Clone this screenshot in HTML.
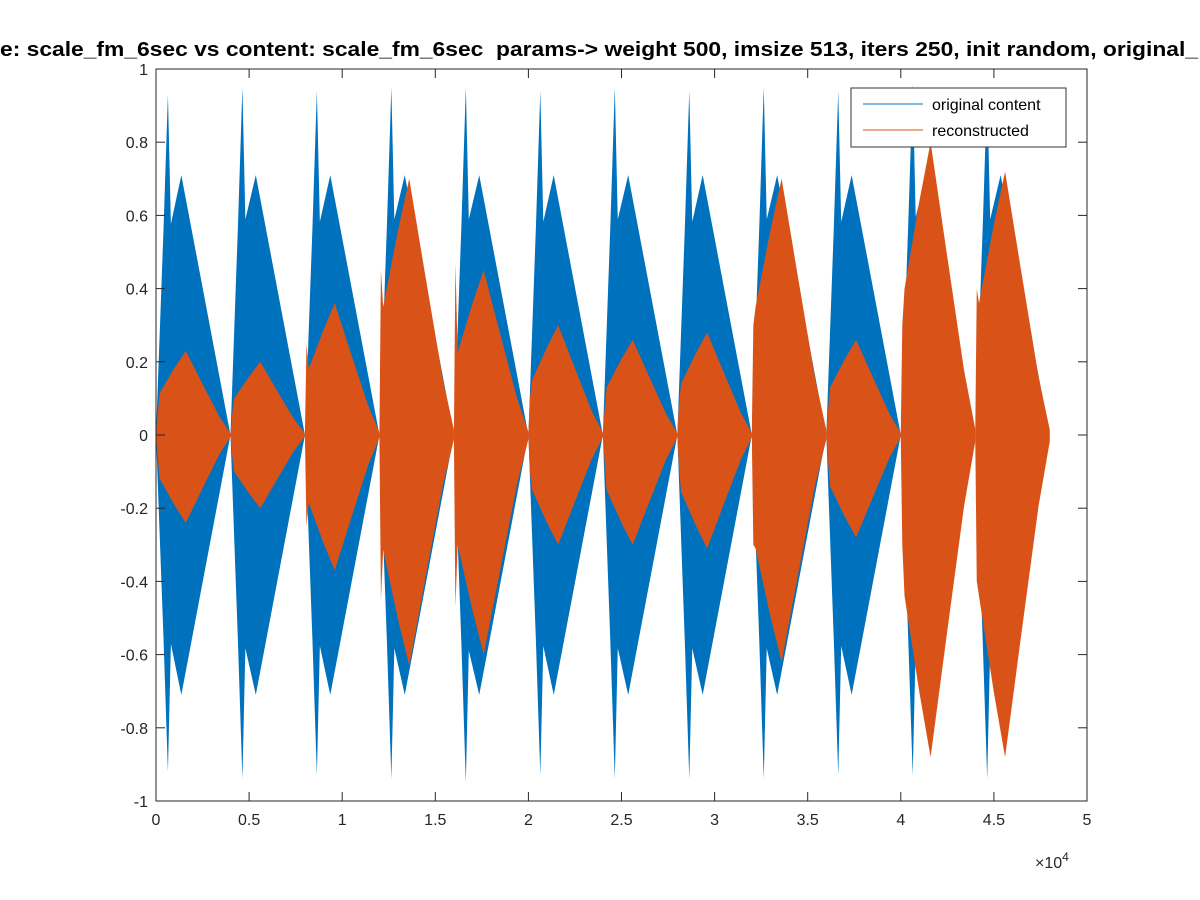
<!DOCTYPE html>
<html><head><meta charset="utf-8"><style>
html,body{margin:0;padding:0;background:#fff;}
svg{display:block;font-family:"Liberation Sans",Arial,sans-serif;}
</style></head><body>
<svg id="chart" width="1200" height="900" viewBox="0 0 1200 900">
<rect x="0" y="0" width="1200" height="900" fill="#fff"/>
<g id="plot"></g>
<g id="axes"></g>
<text x="0" y="56" font-size="20" font-weight="bold" fill="#000" textLength="1198" lengthAdjust="spacingAndGlyphs">e: scale_fm_6sec vs content: scale_fm_6sec&#160; params-&gt; weight 500, imsize 513, iters 250, init random, original_</text>
<g>
<rect x="851" y="88" width="215" height="59" fill="#fff" stroke="#333" stroke-width="1"/>
<line x1="863" y1="104" x2="923" y2="104" stroke="#0072BD" stroke-width="1"/>
<text x="932" y="110" font-size="16" fill="#000">original content</text>
<line x1="863" y1="130" x2="923" y2="130" stroke="#D95319" stroke-width="1"/>
<text x="932" y="136" font-size="16" fill="#000">reconstructed</text>
</g>
</svg>
<script>
const segStarts = [0,4000,8000,12000,16000,20000,24000,28000,32000,36000,40000,44000];
const segLen = 4000;
const blueSpikeUp = [0.93,0.95,0.94,0.95,0.95,0.94,0.95,0.94,0.95,0.94,0.96,0.95];
const blueSpikeDown = [-0.92,-0.94,-0.93,-0.94,-0.95,-0.93,-0.94,-0.94,-0.94,-0.93,-0.93,-0.94];
const blueBody = [0.71,0.71,0.71,0.71,0.71,0.71,0.71,0.71,0.71,0.71,0.71,0.71];
const orangeUp = [0.23,0.20,0.36,0.70,0.45,0.30,0.26,0.28,0.70,0.26,0.80,0.72];
const orangeDown = [-0.24,-0.20,-0.37,-0.63,-0.60,-0.30,-0.30,-0.31,-0.62,-0.28,-0.88,-0.88];
const orangeStartSpike = [0.05,0.05,0.25,0.45,0.47,0.10,0.06,0.08,0.30,0.06,0.30,0.40];
const xTicks = [0,0.5,1,1.5,2,2.5,3,3.5,4,4.5,5];
const yTicks = [-1,-0.8,-0.6,-0.4,-0.2,0,0.2,0.4,0.6,0.8,1];

const L=156,R=1087,T=69,B=801;
const sx = v => L + (v/50000)*(R-L);
const sy = v => B - (v+1)/2*(B-T);
const NS='http://www.w3.org/2000/svg';
const plot=document.getElementById('plot'), axes=document.getElementById('axes');
function mk(tag,attrs,parent){const e=document.createElementNS(NS,tag);for(const k in attrs)e.setAttribute(k,attrs[k]);parent.appendChild(e);return e;}

segStarts.forEach((s,i)=>{
  const up=[[0,0],[0.1,0.6*blueSpikeUp[i]],[0.16,blueSpikeUp[i]],[0.2,0.62*blueSpikeUp[i]],[0.34,blueBody[i]],[1,0]];
  const dn=[[0,0],[0.1,0.6*-blueSpikeDown[i]],[0.16,-blueSpikeDown[i]],[0.2,0.62*-blueSpikeDown[i]],[0.34,blueBody[i]],[1,0]];
  let pts=up.map(p=>sx(s+p[0]*segLen)+','+sy(p[1]));
  pts=pts.concat(dn.slice().reverse().map(p=>sx(s+p[0]*segLen)+','+sy(-p[1])));
  const e=mk('polygon',{points:pts.join(' '),fill:'#0072BD'},plot);
  
  
});
const shape=[[0,0.02],[0.02,-1],[0.05,0.5],[0.25,0.8],[0.4,1],[0.6,0.65],[0.85,0.22],[1,0.02]];
segStarts.forEach((s,i)=>{
  let pts=shape.map(p=>sx(s+p[0]*segLen)+','+sy(p[1]<0?orangeStartSpike[i]:p[1]*orangeUp[i]));
  pts=pts.concat(shape.slice().reverse().map(p=>sx(s+p[0]*segLen)+','+sy(p[1]<0?-orangeStartSpike[i]:p[1]*orangeDown[i])));
  const e=mk('polygon',{points:pts.join(' '),fill:'#D95319'},plot);
  
  
});

const box=mk('rect',{x:L,y:T,width:R-L,height:B-T,fill:'none',stroke:'#262626','stroke-width':1},axes);


xTicks.forEach(v=>{
  const x=sx(v*10000);
  mk('line',{x1:x,y1:B,x2:x,y2:B-9,stroke:'#262626'},axes);
  mk('line',{x1:x,y1:T,x2:x,y2:T+9,stroke:'#262626'},axes);
  const t=mk('text',{x:x,y:B+24,'font-size':16,'text-anchor':'middle',fill:'#262626'},axes);
  t.textContent=String(v);
  
  
});
yTicks.forEach(v=>{
  const y=sy(v);
  mk('line',{x1:L,y1:y,x2:L+9,y2:y,stroke:'#262626'},axes);
  mk('line',{x1:R,y1:y,x2:R-9,y2:y,stroke:'#262626'},axes);
  const t=mk('text',{x:L-8,y:y+6,'font-size':16,'text-anchor':'end',fill:'#262626'},axes);
  t.textContent=String(v);
  
  
});
const ex=mk('text',{x:1035,y:868,'font-size':16,fill:'#262626'},axes);
ex.innerHTML='×10<tspan dy="-7" font-size="12">4</tspan>';


</script>
</body></html>
